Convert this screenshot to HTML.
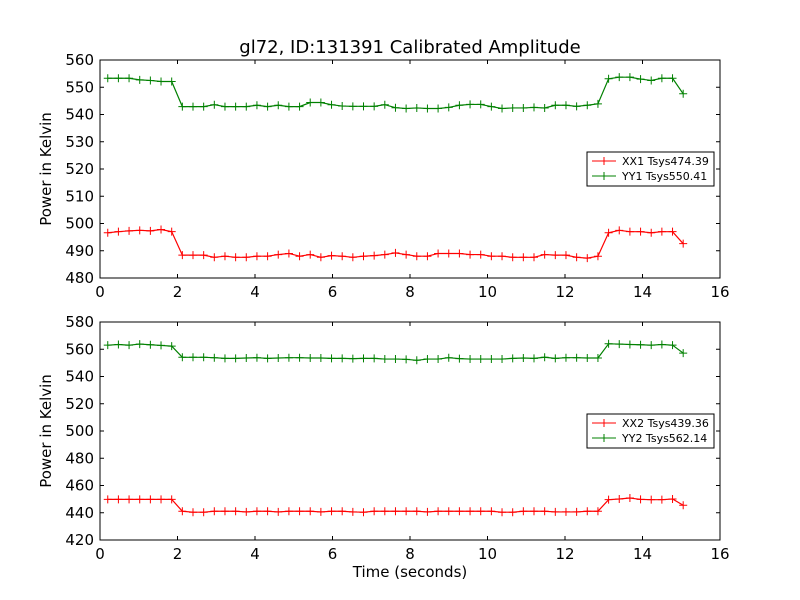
<!DOCTYPE html>
<html><head><meta charset="utf-8"><style>
body{margin:0;background:#fff}
svg{display:block;font-family:"DejaVu Sans","Liberation Sans",sans-serif}
</style></head><body>
<svg id="chart" width="800" height="600" viewBox="0 0 800 600" xmlns="http://www.w3.org/2000/svg">
<rect width="800" height="600" fill="#fff"/>
<text x="410" y="53" font-size="18" text-anchor="middle">gl72, ID:131391 Calibrated Amplitude</text>
</svg>
<script>
const xTicks=[0,2,4,6,8,10,12,14,16];
const y1Ticks=[480,490,500,510,520,530,540,550,560];
const y2Ticks=[420,440,460,480,500,520,540,560,580];
const tStart=0.2, tStep=0.275;
const xx1=[496.6,497.0,497.3,497.5,497.3,497.8,497.0,
488.4,488.4,488.4,487.6,488.0,487.6,487.6,488.0,488.0,488.6,489.0,488.0,488.6,487.6,488.2,488.0,487.6,488.0,488.2,488.6,489.2,488.6,488.0,488.0,489.0,489.0,489.0,488.6,488.6,488.0,488.0,487.6,487.6,487.6,488.6,488.4,488.4,487.6,487.3,488.0,
496.6,497.5,497.0,497.0,496.6,497.0,497.0,492.6];
const yy1=[553.3,553.3,553.3,552.7,552.5,552.1,552.1,
542.9,542.9,542.9,543.6,542.9,542.9,542.9,543.4,542.9,543.4,542.9,542.9,544.4,544.4,543.6,543.1,543.0,543.0,543.0,543.6,542.5,542.2,542.4,542.2,542.2,542.6,543.4,543.7,543.7,542.9,542.2,542.4,542.4,542.6,542.4,543.4,543.4,543.0,543.4,543.9,
553.1,553.7,553.7,553.0,552.5,553.3,553.3,547.6];
const xx2=[449.8,449.8,449.8,449.8,449.8,449.8,449.8,
441.1,440.4,440.4,441.1,441.1,441.1,440.6,441.1,441.1,440.6,441.1,441.1,441.1,440.6,441.1,441.1,440.6,440.4,441.1,441.1,441.1,441.1,441.1,440.6,441.1,441.1,441.1,441.1,441.1,441.1,440.4,440.4,441.1,441.1,441.1,440.6,440.6,440.6,441.1,441.1,
449.6,450.1,450.8,449.8,449.6,449.6,450.1,445.5];
const yy2=[563.0,563.5,563.0,563.8,563.3,562.8,562.3,
554.1,554.1,554.1,553.8,553.3,553.3,553.6,553.8,553.3,553.6,553.8,553.8,553.6,553.6,553.3,553.3,553.1,553.3,553.3,552.8,552.8,552.6,551.9,552.8,552.8,553.8,553.1,552.8,552.8,552.8,552.8,553.3,553.6,553.3,554.1,553.3,553.8,553.8,553.6,553.6,
564.0,563.8,563.5,563.3,563.0,563.5,563.0,557.2];
const NS='http://www.w3.org/2000/svg';
const svg=document.getElementById('chart');
function mk(tag,attrs,parent){const e=document.createElementNS(NS,tag);for(const k in attrs)e.setAttribute(k,attrs[k]);(parent||svg).appendChild(e);return e;}
function panel(top,yTicks,s1,s2,l1,l2,idx,showX){
  const L=100,W=620,H=218,x0=0,x1=16,ymin=yTicks[0],ymax=yTicks[yTicks.length-1];
  const X=v=>L+(v-x0)/(x1-x0)*W, Y=v=>top+H-(v-ymin)/(ymax-ymin)*H;
  const g=mk('g',{});
  
  
  xTicks.forEach(t=>{
    mk('line',{x1:X(t),x2:X(t),y1:top+H,y2:top+H-4,stroke:'#000'},g);
    mk('line',{x1:X(t),x2:X(t),y1:top,y2:top+4,stroke:'#000'},g);
    const tx=mk('text',{x:X(t),y:top+H+19,'font-size':15,'text-anchor':'middle'},g);
    
    
    tx.textContent=t;
  });
  yTicks.forEach(t=>{
    mk('line',{x1:L,x2:L+4,y1:Y(t),y2:Y(t),stroke:'#000'},g);
    mk('line',{x1:L+W,x2:L+W-4,y1:Y(t),y2:Y(t),stroke:'#000'},g);
    const tx=mk('text',{x:L-6,y:Y(t)+5,'font-size':15,'text-anchor':'end'},g);
    
    
    tx.textContent=t;
  });
  const yl=mk('text',{x:0,y:0,'font-size':15,'text-anchor':'middle',transform:`translate(51,${top+H/2}) rotate(-90)`},g);
  
  
  yl.textContent='Power in Kelvin';
  [[s1,'#ff0000',l1],[s2,'#008000',l2]].forEach(([s,c,lab])=>{
    const pts=s.map((v,i)=>X(tStart+i*tStep)+','+Y(v)).join(' ');
    const pl=mk('polyline',{points:pts,fill:'none',stroke:c,'stroke-width':1.2},g);
    
    
    s.forEach((v,i)=>{const x=X(tStart+i*tStep),y=Y(v);
      mk('path',{d:`M${x-4},${y}H${x+4}M${x},${y-4}V${y+4}`,stroke:c,'stroke-width':1},g);});
  });
  mk('rect',{x:L,y:top,width:W,height:H,fill:'none',stroke:'#000'},g);
  const lg=mk('g',{},g);
  
  
  const ly=top+92;
  mk('rect',{x:587,y:ly,width:127,height:34,fill:'#fff',stroke:'#000'},lg);
  [[l1,'#ff0000'],[l2,'#008000']].forEach(([lab,c],k)=>{
    const yy=ly+9+k*15;
    mk('path',{d:`M592,${yy}H616M604,${yy-4}V${yy+4}`,stroke:c},lg);
    const t=mk('text',{x:622,y:yy+4,'font-size':11},lg);
    
    
    t.textContent=lab;
  });
  if(showX){const xt=mk('text',{x:410,y:577,'font-size':15,'text-anchor':'middle'},g);
    
    
    xt.textContent='Time (seconds)';}
}
panel(60,y1Ticks,xx1,yy1,'XX1 Tsys474.39','YY1 Tsys550.41',1,false);
panel(322,y2Ticks,xx2,yy2,'XX2 Tsys439.36','YY2 Tsys562.14',2,true);
</script>
</body></html>
